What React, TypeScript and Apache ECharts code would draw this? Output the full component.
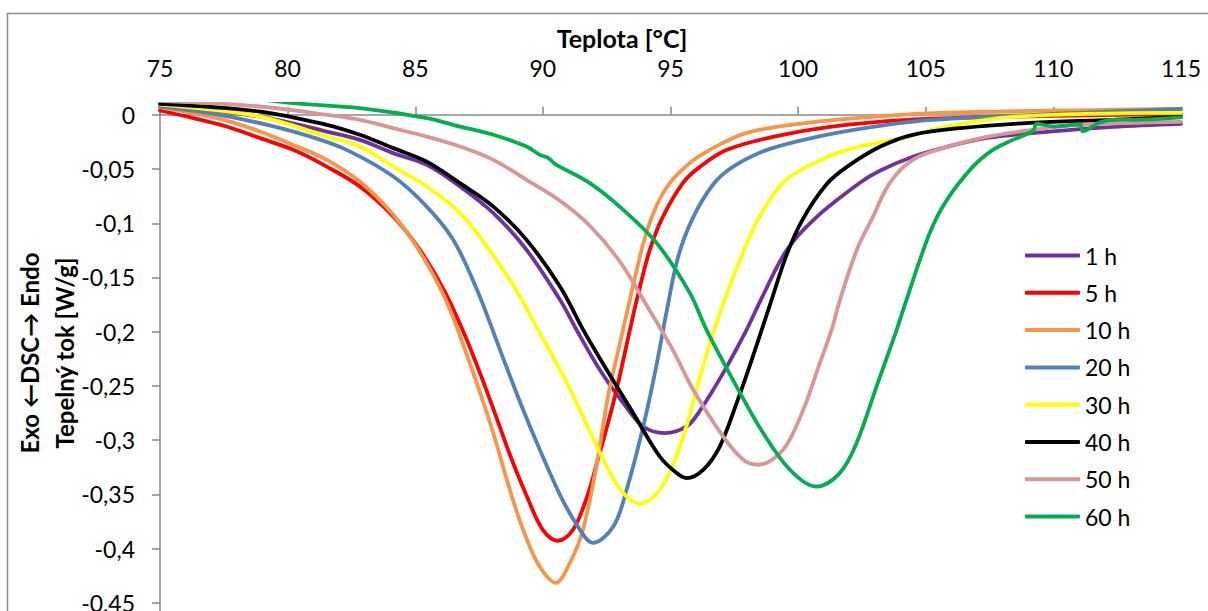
import React, { useEffect, useRef } from "react";
import * as echarts from "echarts";

// DSC heat-flow curves: [temperature °C, heat flow W/g]
const series1h: [number, number][] = [
  [75, 0.0083], [78.92, -0.0016], [81.53, -0.0154], [82.83, -0.0231], [84.14, -0.0353],
  [85.45, -0.0461], [86.75, -0.0661], [88.06, -0.0906], [89.36, -0.1245], [90.67, -0.1706],
  [91.32, -0.1983], [92.23, -0.2351], [93.15, -0.2658], [93.93, -0.2874], [94.78, -0.2935],
  [95.63, -0.2874], [96.15, -0.2729], [97.06, -0.2382], [97.98, -0.1983], [98.54, -0.1706],
  [99.56, -0.1245], [100.73, -0.0941], [102.42, -0.0627], [103.2, -0.0516], [104.49, -0.0387],
  [105.83, -0.0295], [107.39, -0.0212], [109.74, -0.0157], [112.33, -0.0111], [115, -0.0083],
];

const series5h: [number, number][] = [
  [75, 0.004], [76.3, -0.003], [77.61, -0.0108], [78.92, -0.0215], [80.22, -0.0323],
  [81.53, -0.0477], [82.83, -0.0661], [84.14, -0.0938], [85.18, -0.1245], [86.16, -0.1632],
  [87.02, -0.2075], [87.93, -0.2628], [88.71, -0.3135], [89.38, -0.3522], [90.0, -0.3827],
  [90.59, -0.3928], [91.18, -0.3827], [91.73, -0.3523], [92.12, -0.3209], [92.82, -0.26],
  [93.41, -0.1983], [93.68, -0.1706], [94.19, -0.1245], [94.7, -0.0941], [95.49, -0.0627],
  [96.15, -0.048], [97.21, -0.0323], [99.01, -0.0203], [101.24, -0.0111], [104.26, -0.0046],
  [107.9, -0.0018], [115, 0.0009],
];

const series10h: [number, number][] = [
  [75, 0.0071], [76.3, 0.0016], [77.61, -0.0053], [78.92, -0.0154], [80.22, -0.0277],
  [81.53, -0.0415], [82.83, -0.0615], [84.14, -0.0922], [85.18, -0.1263], [86.16, -0.1687],
  [87.02, -0.2213], [87.93, -0.284], [88.79, -0.3522], [89.3, -0.3873], [89.88, -0.4168],
  [90.51, -0.4316], [91.06, -0.4131], [91.57, -0.3827], [92.12, -0.3209], [92.55, -0.26],
  [93.14, -0.1983], [93.68, -0.1429], [94.03, -0.1106], [94.47, -0.083], [94.98, -0.0627],
  [95.76, -0.0443], [96.54, -0.0323], [97.99, -0.0166], [100.34, -0.0074], [102.93, -0.0018],
  [105.55, 0.0018], [115, 0.0055],
];

const series20h: [number, number][] = [
  [75, 0.0077], [76.96, 0.0016], [78.92, -0.0077], [80.88, -0.02], [82.31, -0.0323],
  [84.14, -0.0569], [85.45, -0.0846], [86.49, -0.1153], [87.42, -0.1614], [88.32, -0.2167],
  [89.1, -0.2646], [89.88, -0.3089], [90.67, -0.3504], [91.33, -0.3781], [91.96, -0.3947],
  [92.76, -0.3797], [93.28, -0.3458], [93.92, -0.2886], [94.43, -0.2333], [94.86, -0.1798],
  [95.29, -0.1318], [95.84, -0.0968], [96.66, -0.0645], [97.44, -0.048], [98.78, -0.0323],
  [100.73, -0.0203], [102.93, -0.0111], [105.28, -0.0046], [115, 0.0055],
];

const series30h: [number, number][] = [
  [75, 0.0095], [78.92, -0.0016], [81.53, -0.02], [82.83, -0.0292], [84.14, -0.0477],
  [85.45, -0.0661], [86.75, -0.0904], [88.04, -0.1291], [88.9, -0.1595], [89.77, -0.1964],
  [90.94, -0.2471], [91.96, -0.2978], [92.74, -0.3347], [93.29, -0.3522], [93.8, -0.3587],
  [94.58, -0.3458], [95.21, -0.3163], [95.72, -0.2794], [96.19, -0.2388], [96.7, -0.1992],
  [97.25, -0.1623], [97.84, -0.1273], [98.42, -0.0968], [99.4, -0.0627], [100.34, -0.048],
  [101.91, -0.0323], [104.26, -0.0203], [105.55, -0.012], [108.41, -0.0018], [115, 0.0018],
];

const series40h: [number, number][] = [
  [75, 0.0101], [78.92, 0.003], [81.53, -0.0092], [82.83, -0.0184], [84.14, -0.0307],
  [85.45, -0.0431], [86.75, -0.063], [88.06, -0.0846], [89.36, -0.1153], [90.67, -0.1583],
  [91.58, -0.1983], [92.5, -0.2351], [93.54, -0.2751], [94.58, -0.3151], [95.24, -0.3304],
  [95.63, -0.335], [96.28, -0.3274], [96.93, -0.3059], [97.59, -0.2658], [98.11, -0.2311],
  [98.89, -0.1757], [99.56, -0.1285], [100.19, -0.0959], [101.13, -0.0636], [101.91, -0.048],
  [103.2, -0.0295], [104.49, -0.0184], [106.45, -0.012], [109.08, -0.0074], [112.33, -0.0046],
  [115, -0.0018],
];

const series50h: [number, number][] = [
  [75, 0.0129], [78.92, 0.0077], [81.53, 0], [82.83, -0.0046], [84.14, -0.0123],
  [85.45, -0.02], [86.75, -0.0292], [88.06, -0.0415], [89.36, -0.0599], [90.67, -0.0793],
  [91.84, -0.1023], [93.02, -0.1355], [94.19, -0.1807], [95.09, -0.2167], [95.89, -0.2536],
  [97.06, -0.2966], [97.85, -0.3181], [98.43, -0.3227], [99.41, -0.3089], [100.2, -0.272],
  [100.85, -0.229], [101.31, -0.1983], [101.64, -0.1706], [102.3, -0.1245], [102.93, -0.0941],
  [103.59, -0.0627], [104.49, -0.0415], [105.83, -0.0295], [107.39, -0.0203], [109.2, -0.0138],
  [111.04, -0.0092], [115, -0.0065],
];

const series60h: [number, number][] = [
  [75, 0.025], [78, 0.017], [80.22, 0.0108], [82.83, 0.0062], [85.45, -0.003],
  [86.75, -0.0108], [88.06, -0.0184], [89.36, -0.0292], [89.88, -0.0369], [90.2, -0.0396],
  [90.47, -0.0452], [91.84, -0.063], [93.15, -0.0876], [94.46, -0.1183], [95.76, -0.1644],
  [96.41, -0.1983], [97.59, -0.2506], [98.63, -0.2935], [99.68, -0.3273], [100.72, -0.3428],
  [101.63, -0.3304], [102.29, -0.3027], [103.07, -0.2506], [103.86, -0.1983], [104.18, -0.1752],
  [105.16, -0.1088], [105.83, -0.0784], [106.84, -0.048], [107.63, -0.0323], [108.41, -0.0231],
  [109.2, -0.0148], [109.35, -0.0083], [109.98, -0.0106], [111.04, -0.0088], [111.15, -0.0152],
  [111.82, -0.0069], [112.6, -0.0041], [113.19, -0.0046], [115, -0.0023],
];

const seriesNames = ["1 h", "5 h", "10 h", "20 h", "30 h", "40 h", "50 h", "60 h"];
const seriesColors = ["#7030A0", "#FF0000", "#F79646", "#4F81BD", "#FFFF00", "#000000", "#D99694", "#00B050"];
const seriesData = [series1h, series5h, series10h, series20h, series30h, series40h, series50h, series60h];

const yTicks = [0, -0.05, -0.1, -0.15, -0.2, -0.25, -0.3, -0.35, -0.4, -0.45, -0.5];

const FONT = 'Lato, "DejaVu Sans", sans-serif';
const AXIS_GRAY = "#888888";

export default function App() {
  const ref = useRef<HTMLDivElement>(null);

  useEffect(() => {
    if (!ref.current) return;
    const chart = echarts.init(ref.current, undefined, { renderer: "svg" });
    const fmt = (v: number) => String(Math.round(v * 1000) / 1000).replace(".", ",");

    chart.setOption({
      animation: false,
      backgroundColor: "#ffffff",
      grid: { left: 160, top: 104, width: 1021, height: 553, outerBoundsMode: "none" },
      xAxis: {
        type: "value",
        position: "top",
        min: 75,
        max: 115,
        interval: 5,
        axisLine: { onZero: true, lineStyle: { color: AXIS_GRAY, width: 1.5 } },
        axisTick: { show: true, length: 8, lineStyle: { color: AXIS_GRAY, width: 1.5 } },
        axisLabel: { margin: 25, fontSize: 23, color: "#000", fontFamily: FONT },
        splitLine: { show: false },
      },
      yAxis: {
        type: "value",
        min: -0.5,
        max: 0.01,
        axisLine: { show: true, onZero: false, lineStyle: { color: AXIS_GRAY, width: 1.5 } },
        axisTick: { show: true, length: 8, customValues: yTicks, lineStyle: { color: AXIS_GRAY, width: 1.5 } },
        axisLabel: {
          margin: 25,
          fontSize: 23,
          color: "#000",
          fontFamily: FONT,
          customValues: yTicks,
          formatter: fmt,
        },
        splitLine: { show: false },
      },
      legend: {
        orient: "vertical",
        left: 1020,
        top: 239,
        icon: "roundRect",
        itemWidth: 55,
        itemHeight: 4,
        itemGap: 14.3,
        textStyle: { fontSize: 23, color: "#000", fontFamily: FONT },
        data: seriesNames,
      },
      graphic: [
        {
          type: "rect",
          silent: true,
          shape: { x: 7.5, y: 13.5, width: 1400, height: 800 },
          style: { fill: "none", stroke: "#8c8c8c", lineWidth: 1.5 },
        },
        {
          type: "text",
          x: 622,
          y: 38,
          style: {
            text: "Teplota [°C]",
            align: "center",
            verticalAlign: "middle",
            font: `bold 25px ${FONT}`,
            fill: "#000",
          },
        },
        {
          type: "text",
          x: 46.5,
          y: 353,
          rotation: Math.PI / 2,
          style: {
            text: "Exo ←DSC→ Endo\nTepelný tok [W/g]",
            align: "center",
            verticalAlign: "middle",
            lineHeight: 35,
            font: `bold 24px ${FONT}`,
            fill: "#000",
          },
        },
      ],
      series: seriesData.map((data, i) => ({
        name: seriesNames[i],
        type: "line",
        data,
        symbol: "none",
        showSymbol: false,
        smooth: 0.35,
        clip: true,
        color: seriesColors[i],
        itemStyle: { color: seriesColors[i] },
        lineStyle: { width: 3.8, color: seriesColors[i], cap: "round", join: "round" },
      })),
    });

    return () => chart.dispose();
  }, []);

  return (
    <div
      ref={ref}
      style={{ position: "absolute", left: 0, top: 0, width: 1208, height: 611 }}
    />
  );
}
